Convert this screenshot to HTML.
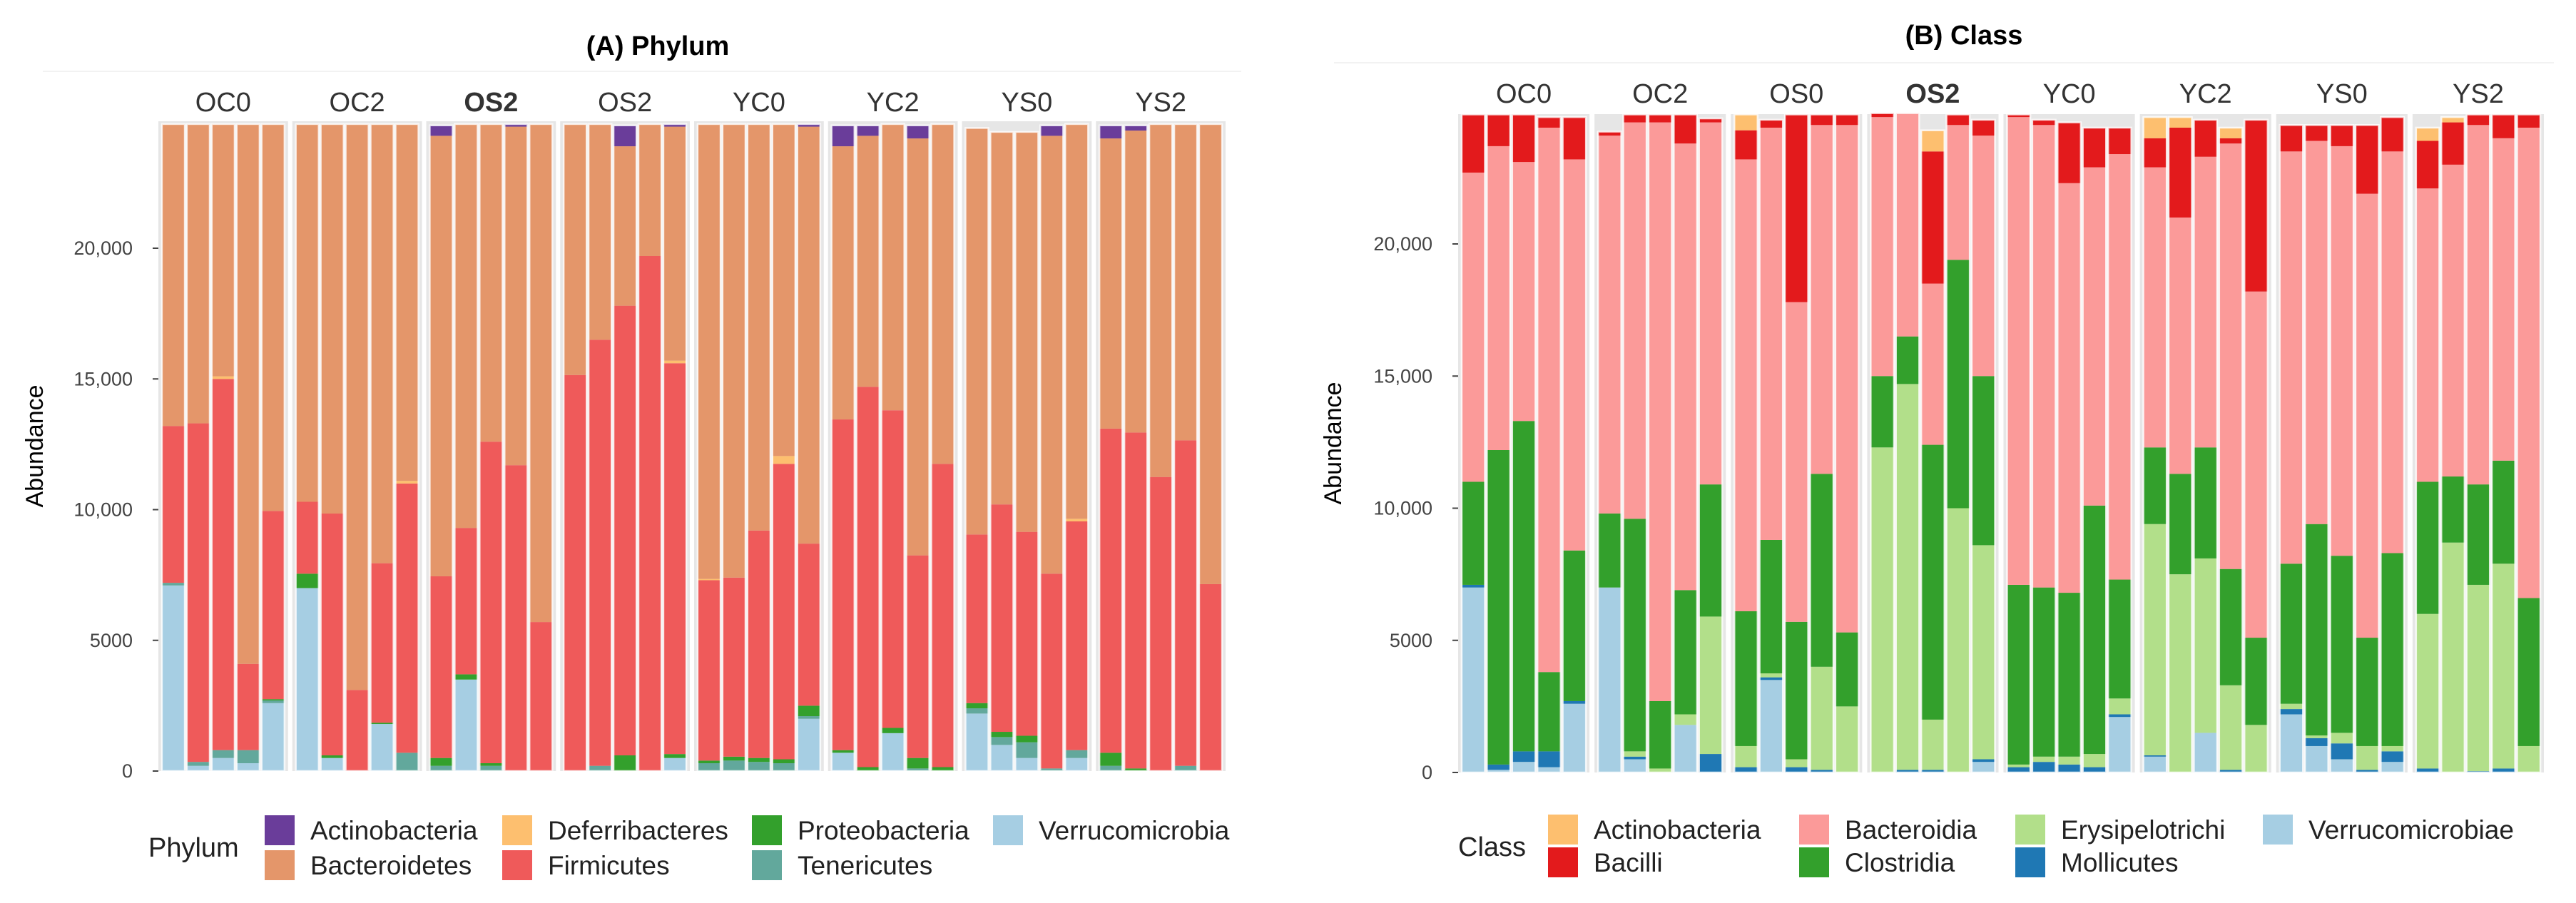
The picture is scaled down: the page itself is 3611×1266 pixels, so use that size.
<!DOCTYPE html>
<html><head><meta charset="utf-8">
<style>
html,body{margin:0;padding:0;background:#fff;}
svg{display:block;font-family:"Liberation Sans",sans-serif;}
</style></head>
<body>
<svg id="fig" width="3611" height="1266" viewBox="0 0 3611 1266" xmlns="http://www.w3.org/2000/svg">
  <text x="922" y="77" text-anchor="middle" font-size="38" font-weight="bold" fill="#000">(A)  Phylum</text>
  <text x="2753" y="62" text-anchor="middle" font-size="38" font-weight="bold" fill="#000">(B) Class</text>
  <line x1="60" y1="100" x2="1740" y2="100" stroke="#f2f2f2" stroke-width="2"/>
  <line x1="1870" y1="88" x2="3580" y2="88" stroke="#f2f2f2" stroke-width="2"/>
  <g id="chartA"></g>
  <g id="chartB"></g>
</svg>
<script>
// ---------- shared data ----------
const facets = ["OC0","OC2","OS2","OS2","YC0","YC2","YS0","YS2"];
const facetsB = ["OC0","OC2","OS0","OS2","YC0","YC2","YS0","YS2"];
const yTicks = [0,5000,10000,15000,20000];
const yTickLabels = ["0","5000","10,000","15,000","20,000"];

// ---------- Phylum (bottom -> top stacking) ----------
const phylumNames = ["Verrucomicrobia","Tenericutes","Proteobacteria","Firmicutes","Deferribacteres","Bacteroidetes","Actinobacteria"];
const pVerr = [7100,200,500,300,2600, 7000,500,0,1800,0, 0,3500,0,0,0, 0,0,0,0,500, 0,0,0,0,2000, 700,0,1450,0,0, 2200,1000,500,0,500, 0,0,0,0,0];
const pTen  = [100,150,300,500,100, 0,0,0,0,700, 200,0,200,0,0, 0,200,0,0,0, 300,400,350,300,100, 0,0,0,100,0, 200,300,600,100,300, 200,0,0,200,0];
const pProt = [0,0,0,0,50, 550,100,0,50,0, 300,200,100,0,0, 0,0,600,0,150, 100,150,150,150,400, 100,150,200,400,150, 200,200,250,0,0, 500,100,0,0,0];
const pFirm = [6000,12950,14200,3300,7200, 2750,9250,3100,6100,10300, 6950,5600,12300,11700,5700, 15150,16300,17200,19700,14950, 6900,6850,8700,11300,6200, 12650,14550,12150,7750,11600, 6450,8700,7800,7450,8750, 12400,12850,11250,12450,7150];
const pDef  = [0,0,100,0,0, 0,0,0,0,100, 0,0,0,0,0, 0,0,0,0,100, 50,0,0,300,0, 0,0,0,0,0, 0,0,0,0,100, 0,0,0,0,0];
const pBact = [11550,11450,9650,20650,14800, 14450,14900,21650,16800,13650, 16850,15450,12150,12950,19050, 9600,8250,6100,5050,8950, 17400,17350,15550,12700,15950, 10450,9600,10950,15950,13000, 15550,14250,15300,16750,15100, 11100,11550,13500,12100,17600];
const pAct  = [0,0,0,0,0, 0,0,0,0,0, 400,0,0,100,0, 0,0,800,0,100, 0,0,0,0,100, 800,400,0,500,0, 0,0,0,400,0, 500,200,0,0,0];
const phylumColors = ["#a6cee3","#62a89c","#33a02c","#ef5a5a","#fdbf6f","#e4966a","#6a3d9a"];

// ---------- Class (bottom -> top stacking) ----------
const classNames = ["Verrucomicrobiae","Mollicutes","Erysipelotrichi","Clostridia","Bacteroidia","Bacilli","Actinobacteria"];
const cVerr = [7000,100,400,200,2600, 7000,500,0,1800,0, 0,3500,0,0,0, 0,0,0,0,400, 0,0,0,0,2100, 600,0,1500,0,0, 2200,1000,500,0,400, 0,0,0,0,0];
const cMoll = [100,200,400,600,100, 0,100,0,0,700, 200,100,200,100,0, 0,100,100,0,100, 200,400,300,200,100, 50,0,0,100,0, 200,300,600,100,400, 150,0,50,150,0];
const cEry  = [0,0,0,0,0, 0,200,150,400,5200, 800,150,300,3900,2500, 12300,14600,1900,10000,8100, 100,200,300,500,600, 8750,7500,6600,3200,1800, 200,100,400,900,200, 5850,8700,7050,7750,1000];
const cClos = [3900,11900,12500,3000,5700, 2800,8800,2550,4700,5000, 5100,5050,5200,7300,2800, 2700,1800,10400,9400,6400, 6800,6400,6200,9400,4500, 2900,3800,4200,4400,3300, 5300,8000,6700,4100,7300, 5000,2500,3800,3900,5600];
const cBact = [11700,11500,9800,20600,14800, 14300,15000,21900,16900,13700, 17100,15600,12100,13200,19200, 9800,8450,6100,5100,9100, 17700,17500,15500,12800,16100, 10600,9700,11000,16100,13100, 15600,14500,15500,16800,15200, 11100,11800,13600,12200,17800];
const cBac  = [2200,1200,1800,400,1600, 150,300,300,1100,150, 1100,300,7100,400,400, 150,0,5000,400,600, 100,200,2300,1500,1000, 1100,3400,1400,200,6500, 1000,600,800,2600,1300, 1800,1600,400,900,500];
const cAct  = [0,0,0,0,0, 0,0,0,0,0, 600,0,0,0,0, 0,0,800,0,0, 0,0,0,0,0, 800,400,0,400,0, 0,0,0,0,0, 500,200,0,0,0];
const classColors = ["#a6cee3","#1f78b4","#b2df8a","#33a02c","#fb9a99","#e31a1c","#fdbf6f"];

const NS = "http://www.w3.org/2000/svg";
function mk(tag, attrs, parent){
  const e = document.createElementNS(NS, tag);
  for (const k in attrs) e.setAttribute(k, attrs[k]);
  parent.appendChild(e);
  return e;
}

function drawChart(g, cfg){
  const yScale = v => cfg.y0 - v * cfg.pxPer;
  const pw = (cfg.x1 - cfg.x0 - cfg.gap * 7) / 8;
  // axis ticks
  yTicks.forEach((t, i) => {
    const y = yScale(t);
    const tk = mk("line", {x1: cfg.x0 - 8, x2: cfg.x0, y1: y, y2: y, stroke: "#444", "stroke-width": 2}, g);
    
    
    const lb = mk("text", {x: cfg.x0 - 36, y: y + 9, "text-anchor": "end", "font-size": 27, fill: "#444"}, g);
    lb.textContent = yTickLabels[i];
    
    
  });
  const yt = mk("text", {x: 0, y: 0, transform: `translate(${cfg.ylabX},${(cfg.y0 + cfg.top) / 2}) rotate(-90)`, "text-anchor": "middle", "font-size": 34, fill: "#000"}, g);
  yt.textContent = "Abundance";
  
  

  cfg.facets.forEach((f, fi) => {
    const px = cfg.x0 + fi * (pw + cfg.gap);
    const bg = mk("rect", {x: px, y: cfg.top, width: pw, height: cfg.y0 - cfg.top, fill: "#e6e6e6"}, g);
    
    
    const st = mk("text", {x: px + pw / 2, y: cfg.stripY, "text-anchor": "middle", "font-size": 38, fill: "#333", "font-weight": (fi === cfg.boldIdx ? "bold" : "normal")}, g);
    st.textContent = f;
    
    
    const unit = pw / 5.2;
    for (let b = 0; b < 5; b++){
      const idx = fi * 5 + b;
      const cx = px + (b + 0.6) * unit;
      const bw = unit * 0.92;
      let cum = 0;
      cfg.series.forEach((s, si) => {
        const v = s[idx];
        if (v <= 0) { return; }
        const yTop = yScale(cum + v), yBot = yScale(cum);
        const r = mk("rect", {x: cx - bw / 2, y: yTop, width: bw, height: yBot - yTop, fill: cfg.colors[si]}, g);
        
        
        cum += v;
      });
      const ol = mk("rect", {x: cx - bw / 2, y: yScale(cum), width: bw, height: cfg.y0 - yScale(cum), fill: "none", stroke: "#fff", "stroke-width": 2.5, "stroke-opacity": 0.8}, g);
      
      
    }
  });

  // legend
  const lt = mk("text", {x: cfg.legTitleX, y: cfg.legRows[0] + 58, "font-size": 38, fill: "#222"}, g);
  lt.textContent = cfg.legTitle;
  
  
  cfg.legOrder.forEach((si, k) => {
    const col = Math.floor(k / 2), row = k % 2;
    const kx = cfg.legCols[col], ky = cfg.legRows[row];
    const key = mk("rect", {x: kx, y: ky, width: 42, height: 42, fill: cfg.colors[si]}, g);
    
    
    const tx = mk("text", {x: kx + 64, y: ky + 34, "font-size": 37, fill: "#222"}, g);
    tx.textContent = cfg.names[si];
    
    
  });
}

drawChart(document.getElementById("chartA"), {
  facets: facets, boldIdx: 2,
  series: [pVerr, pTen, pProt, pFirm, pDef, pBact, pAct],
  colors: phylumColors, names: phylumNames,
  x0: 222, x1: 1718, gap: 6, y0: 1081, pxPer: 733 / 20000, top: 170,
  stripY: 156, ylabX: 60,
  legTitle: "Phylum", legTitleX: 208,
  legCols: [371, 704, 1054, 1392], legRows: [1143, 1192],
  legOrder: [6, 5, 4, 3, 2, 1, 0]
});
drawChart(document.getElementById("chartB"), {
  facets: facetsB, boldIdx: 3,
  series: [cVerr, cMoll, cEry, cClos, cBact, cBac, cAct],
  colors: classColors, names: classNames,
  x0: 2044, x1: 3566, gap: 7, y0: 1083, pxPer: 741 / 20000, top: 160,
  stripY: 144, ylabX: 1880,
  legTitle: "Class", legTitleX: 2044,
  legCols: [2170, 2522, 2825, 3172], legRows: [1142, 1188],
  legOrder: [6, 5, 4, 3, 2, 1, 0]
});
</script>
</body></html>
